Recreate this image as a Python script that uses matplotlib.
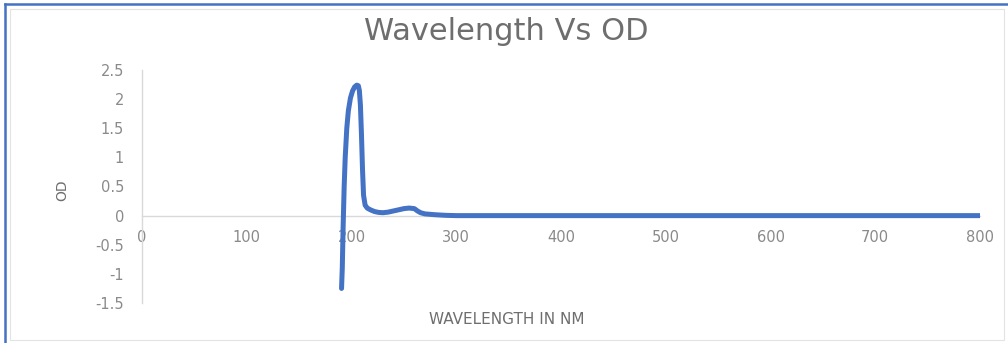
import matplotlib
matplotlib.use("Agg")
import matplotlib.pyplot as plt
from matplotlib.patches import Rectangle
from matplotlib.lines import Line2D

# Data
wavelength = [190.5, 191.2, 192, 193, 194, 195.5, 197, 199, 201, 203, 205, 206.5,
              207.5, 208.5, 209.5, 210.5, 211.5, 213, 215, 218, 222, 226, 230, 235,
              240, 245, 250, 255, 260, 263, 266, 270, 280, 290, 300, 350, 400, 500,
              600, 700, 800]
od = [-1.25, -0.9, -0.2, 0.5, 1.0, 1.5, 1.8, 2.02, 2.14, 2.21, 2.24, 2.23,
      2.15, 1.9, 1.4, 0.8, 0.35, 0.18, 0.13, 0.10, 0.07, 0.055, 0.05, 0.06,
      0.08, 0.10, 0.12, 0.13, 0.12, 0.08, 0.05, 0.03, 0.015, 0.005, 0.0, 0.0, 0.0, 0.0,
      0.0, 0.0, 0.0]
x_ticks = [0, 100, 200, 300, 400, 500, 600, 700, 800]
y_ticks = [-1.5, -1, -0.5, 0, 0.5, 1, 1.5, 2, 2.5]
y_tick_labels = ["-1.5", "-1", "-0.5", "0", "0.5", "1", "1.5", "2", "2.5"]

W, H = 1008, 343
fig = plt.figure(figsize=(W / 100, H / 100), dpi=100)
fig.patch.set_facecolor("white")

# outer document frame and chart border
fig.add_artist(Line2D([5 / W, 1.0], [1 - 4 / H, 1 - 4 / H], color="#4472C4", lw=1.8,
                      transform=fig.transFigure))
fig.add_artist(Line2D([5 / W, 5 / W], [0, 1 - 4 / H], color="#4472C4", lw=1.8,
                      transform=fig.transFigure))
fig.add_artist(Rectangle((10 / W, 3 / H), 1 - 14 / W, 1 - 12 / H, fill=False,
                         edgecolor="#e3e3e3", lw=0.8, transform=fig.transFigure))

ax = fig.add_axes([142 / W, 1 - 303 / H, (980 - 142) / W, (303 - 70) / H])
ax.set_xlim(0, 800)
ax.set_ylim(-1.5, 2.5)
ax.plot(wavelength, od, color="#4472C4", lw=3.6, solid_capstyle="round",
        solid_joinstyle="round", zorder=3)

for s in ["top", "right"]:
    ax.spines[s].set_visible(False)
ax.spines["bottom"].set_position(("data", 0))
ax.spines["bottom"].set_color("#d9d9d9")
ax.spines["left"].set_color("#d9d9d9")
ax.spines["bottom"].set_linewidth(1.0)
ax.spines["left"].set_linewidth(1.0)

ax.set_xticks(x_ticks)
ax.set_yticks(y_ticks)
ax.set_yticklabels(y_tick_labels)
ax.tick_params(axis="x", length=0, pad=10, labelsize=10.5, labelcolor="#8a8a8a",
               labelfontfamily="DejaVu Sans")
ax.tick_params(axis="y", length=0, pad=13, labelsize=10.5, labelcolor="#8a8a8a",
               labelfontfamily="DejaVu Sans")

fig.text(506 / W, 1 - 31 / H, "Wavelength Vs OD", ha="center", va="center",
         fontsize=22, color="#6e6e6e", fontfamily="DejaVu Sans")
fig.text(507 / W, 1 - 320 / H, "WAVELENGTH IN NM", ha="center", va="center",
         fontsize=11, color="#6e6e6e", fontfamily="DejaVu Sans")
fig.text(62 / W, 1 - 190 / H, "OD", ha="center", va="center", rotation=90,
         fontsize=10, color="#6e6e6e", fontfamily="DejaVu Sans")

fig.savefig("out.png", dpi=100)
